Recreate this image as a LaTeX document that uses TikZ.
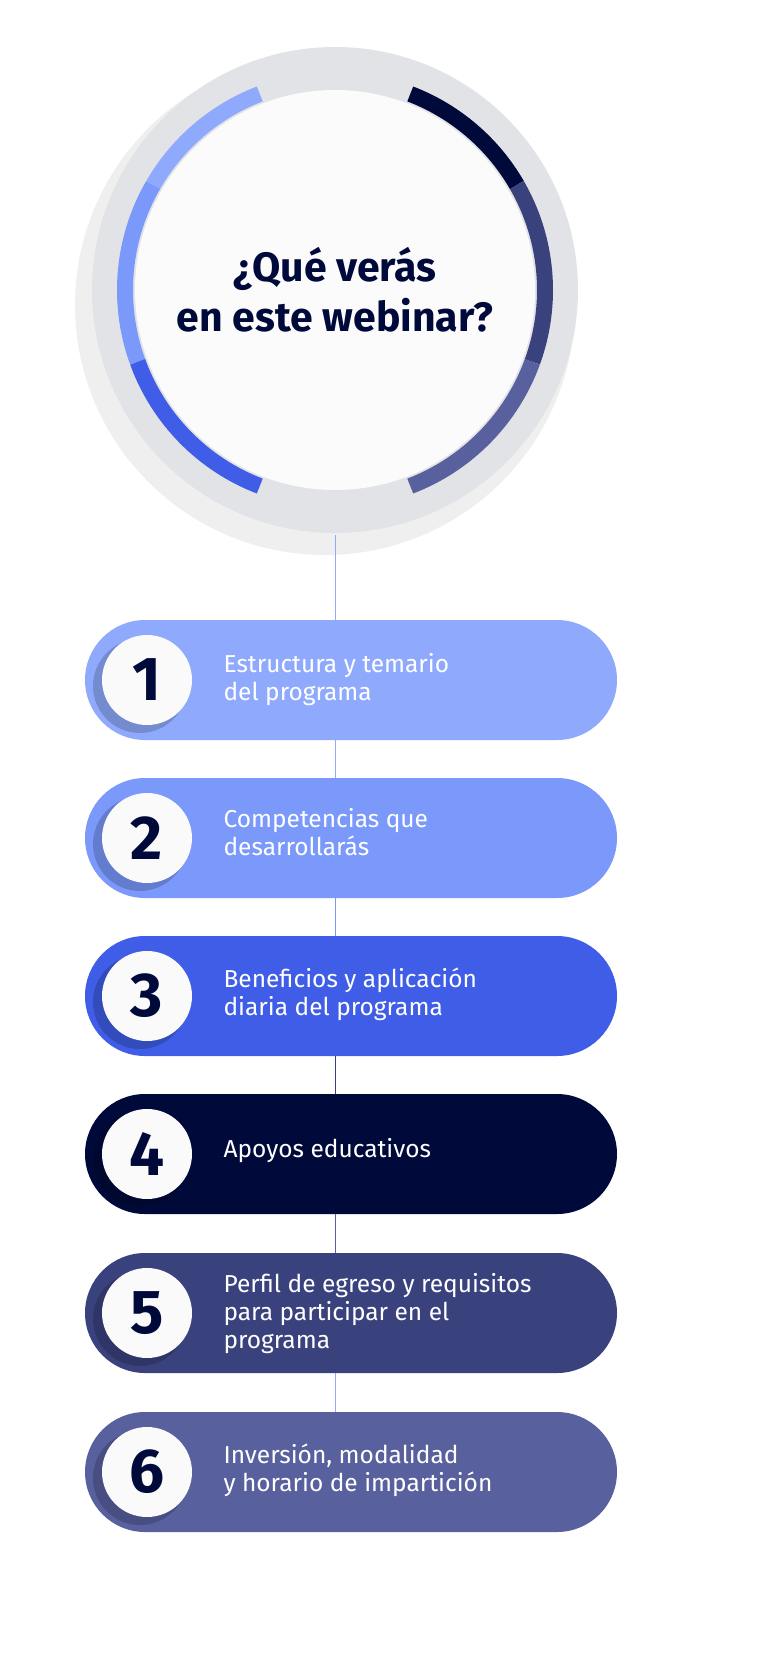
\documentclass[tikz,border=0pt]{standalone}
\usepackage{fontspec}
\setmainfont{Fira Sans}
\definecolor{navy}{HTML}{000A3A}
\definecolor{cA}{HTML}{8FAAFD}
\definecolor{cB}{HTML}{7B98FB}
\definecolor{cC}{HTML}{3F5DE6}
\definecolor{cD}{HTML}{000A3A}
\definecolor{cE}{HTML}{3A427E}
\definecolor{cF}{HTML}{59609E}
\definecolor{ringgray}{HTML}{E2E3E6}
\begin{document}
\begin{tikzpicture}[x=1pt,y=-1pt,
  pill/.style={rounded corners=60pt,minimum width=532pt,minimum height=120pt,inner sep=0pt,outer sep=0pt},
  numdisc/.style={circle,fill=white!96!gray,minimum size=90pt,inner sep=0pt,
    font=\fontsize{62}{62}\selectfont\bfseries,text=navy},
  itemtext/.style={anchor=west,align=left,text=white,font=\fontsize{24.5}{28}\selectfont},
  seg/.style={line width=16pt}]
  \useasboundingbox (0,0) rectangle (762,1678);
  % header circle
  \fill [black!12,opacity=0.5] (325,305) circle (250);
  \node (ring) [circle,fill=ringgray,minimum size=486pt] at (335,290) {};
  \coordinate (c) at (335,290);
  \draw [seg,cA] (c) ++(-111:210) arc [start angle=-111,end angle=-150,radius=210];
  \draw [seg,cB] (c) ++(-150:210) arc [start angle=-150,end angle=-200,radius=210];
  \draw [seg,cC] (c) ++(-200:210) arc [start angle=-200,end angle=-249,radius=210];
  \draw [seg,cD] (c) ++(-69:210) arc [start angle=-69,end angle=-30,radius=210];
  \draw [seg,cE] (c) ++(-30:210) arc [start angle=-30,end angle=20,radius=210];
  \draw [seg,cF] (c) ++(20:210) arc [start angle=20,end angle=69,radius=210];
  \node (title) [circle,fill=white!97!gray,minimum size=400pt,align=center,text=navy,
    font=\fontsize{41}{50}\selectfont\bfseries] at (c) {¿Qué verás\\en este webinar?};
  \coordinate (top) at (335,535);
  % items
  \node (p1) [pill,fill=cA] at (351,680) {};
  \node (p2) [pill,fill=cB] at (351,838) {};
  \node (p3) [pill,fill=cC] at (351,996) {};
  \node (p4) [pill,fill=cD] at (351,1154) {};
  \node (p5) [pill,fill=cE] at (351,1313) {};
  \node (p6) [pill,fill=cF] at (351,1472) {};
  \draw [cA,line width=1pt] (top) -- (p1.north -| top);
  \draw [cA,line width=1pt] (p1.south -| top) -- (p2.north -| top);
  \draw [cB,line width=1pt] (p2.south -| top) -- (p3.north -| top);
  \draw [cE,line width=1pt] (p3.south -| top) -- (p4.north -| top);
  \draw [cF,line width=1pt] (p4.south -| top) -- (p5.north -| top);
  \draw [cA,line width=1pt] (p5.south -| top) -- (p6.north -| top);
  \fill [black,opacity=0.18] (140,686) circle (47) (140,844) circle (47) (140,1002) circle (47)
    (140,1160) circle (47) (140,1319) circle (47) (140,1478) circle (47);
  \node (n1) [numdisc] at (147,680) {1};
  \node (n2) [numdisc] at (147,838) {2};
  \node (n3) [numdisc] at (147,996) {3};
  \node (n4) [numdisc] at (147,1154) {4};
  \node (n5) [numdisc] at (147,1313) {5};
  \node (n6) [numdisc] at (147,1472) {6};
  \node (t1) [itemtext] at (220,680) {Estructura y temario\\del programa};
  \node (t2) [itemtext] at (220,832) {Competencias que\\desarrollarás};
  \node (t3) [itemtext] at (220,994) {Beneficios y aplicación\\diaria del programa};
  \node (t4) [itemtext] at (220,1151) {Apoyos educativos};
  \node (t5) [itemtext] at (220,1314) {Perfil de egreso y requisitos\\para participar en el\\programa};
  \node (t6) [itemtext] at (220,1470) {Inversión, modalidad\\y horario de impartición};
\end{tikzpicture}
\end{document}
